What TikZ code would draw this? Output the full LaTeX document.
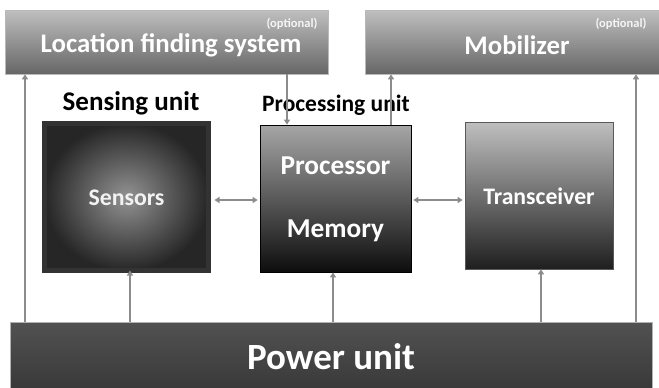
\documentclass[tikz,border=0pt]{standalone}
\usepackage{fontspec}
\setmainfont{Carlito}
\usetikzlibrary{arrows.meta}
\definecolor{conn}{HTML}{8C8C8C}
\tikzset{
  topbox/.style={rectangle, inner sep=0pt, top color=gray!50, bottom color=gray!80!black, draw=gray!55, line width=0.6pt},
  unitbox/.style={rectangle, inner sep=0pt},
  boxtext/.style={text=white, inner sep=0pt},
  arr/.style={draw=conn, line width=2.2pt, -{Triangle[length=5pt,width=6pt]}},
  darr/.style={draw=conn, line width=2.2pt, {Triangle[length=5pt,width=6pt]}-{Triangle[length=5pt,width=6pt]}},
  opt/.style={text=white!92!gray, font=\bfseries\fontsize{12.5}{14}\selectfont, inner sep=0pt},
  caplabel/.style={text=black, inner sep=0pt}
}
\begin{document}
\begin{tikzpicture}[x=1pt,y=-1pt]
\useasboundingbox[fill=white] (0,0) rectangle (659,388);
% top boxes
\node[topbox, minimum width=323pt, minimum height=64pt] (loc) at (166.5,42) {};
\node[boxtext, font=\bfseries\fontsize{26.8}{30}\selectfont] (loct) at (171,45) {Location finding system};
\node[opt] (opt1) at (292,24) {(optional)};
\node[topbox, minimum width=300pt, minimum height=64pt] (mob) at (515,42) {};
\node[boxtext, font=\bfseries\fontsize{26.8}{30}\selectfont] (mobt) at (517,45) {Mobilizer};
\node[opt] (opt2) at (621,24) {(optional)};
% captions
\node[caplabel, font=\bfseries\fontsize{27}{30}\selectfont] (senscap) at (131,103) {Sensing unit};
\node[caplabel, font=\bfseries\fontsize{23.5}{26}\selectfont] (proccap) at (336,105) {Processing unit};
% sensors
\node[unitbox, minimum width=164pt, minimum height=147pt, draw=black!80, line width=5pt, inner color=gray!85!white, outer color=black!85] (sens) at (126.5,197) {};
\node[boxtext, text=white!90!gray, font=\bfseries\fontsize{23.8}{26}\selectfont] (senst) at (126.5,198) {Sensors};
% processor
\node[unitbox, minimum width=151pt, minimum height=147pt, top color=gray!70, bottom color=black!95, draw=black, line width=0.8pt] (proc) at (335.5,198.5) {};
\node[boxtext, font=\bfseries\fontsize{27.3}{30}\selectfont] (proct) at (335.5,166) {Processor};
\node[boxtext, font=\bfseries\fontsize{27.3}{30}\selectfont] (memt) at (335.5,231) {Memory};
% transceiver
\node[unitbox, minimum width=148pt, minimum height=147pt, top color=gray!50, bottom color=black!88, draw=gray!70!black, line width=0.6pt] (trans) at (539,195.5) {};
\node[boxtext, font=\bfseries\fontsize{23.7}{26}\selectfont] (transt) at (539,196) {Transceiver};
% power unit
\node[unitbox, minimum width=642pt, minimum height=70pt, top color=black!68, bottom color=black!78, draw=gray!60, line width=0.8pt] (power) at (331,357) {};
\node[boxtext, font=\bfseries\fontsize{37}{40}\selectfont] (powt) at (331,357) {Power unit};
% connector x-positions
\coordinate (x1) at (25,0);
\coordinate (x2) at (130,0);
\coordinate (x3) at (333,0);
\coordinate (x4) at (541,0);
\coordinate (x5) at (636,0);
\coordinate (x6) at (287,0);
\coordinate (x7) at (391,0);
\coordinate (y1) at (0,200);
% connectors
\draw[arr] (power.north -| x1) -- (loc.south -| x1);
\draw[arr] (power.north -| x2) -- ([yshift=2.5pt]sens.south -| x2);
\draw[arr] (power.north -| x3) -- (proc.south -| x3);
\draw[arr] (power.north -| x4) -- (trans.south -| x4);
\draw[arr] (power.north -| x5) -- (mob.south -| x5);
\draw[arr] (loc.south -| x6) -- (proc.north -| x6);
\draw[arr] (proc.north -| x7) -- (mob.south -| x7);
\draw[darr, shorten <=1pt, shorten >=2pt] ([xshift=2.5pt]sens.east |- y1) -- (proc.west |- y1);
\draw[darr, shorten <=2pt, shorten >=2pt] (proc.east |- y1) -- (trans.west |- y1);
\end{tikzpicture}
\end{document}
